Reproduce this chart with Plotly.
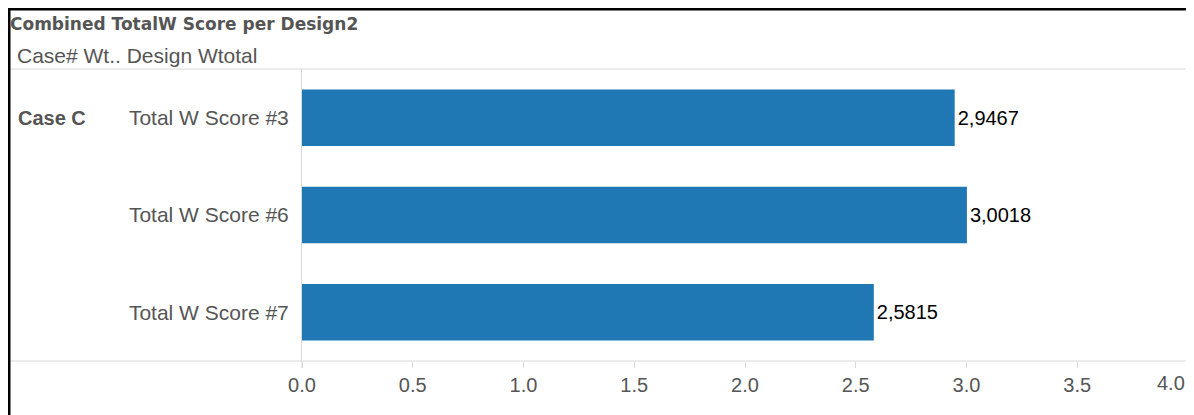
import plotly.graph_objects as go

categories = ["Total W Score #3", "Total W Score #6", "Total W Score #7"]
values = [2.9467, 3.0018, 2.5815]
case_label = "Case C"
title_text = "Combined TotalW Score per Design2"
header_text = "Case# Wt.. Design Wtotal"
x_ticks = [0, 0.5, 1.0, 1.5, 2.0, 2.5, 3.0, 3.5, 4.0]

# page is rendered with an 8px body margin; figure coordinates = page - 8
OFF = 8
W, H = 1194 - OFF, 415 - OFF
L, R, T, B = 302, 1188, 69, 361  # page pixels of plot area

def px(x):
    return (x - L) / (R - L)

def py(y):
    return (B - y) / (B - T)

labels = [f"{v:.4f}".replace(".", ",") for v in values]
tick_text = [f"{t:.1f}" for t in x_ticks]
FONT = "Liberation Sans, Arial"

fig = go.Figure(go.Bar(
    x=values, y=categories, orientation="h",
    marker=dict(color="#1f77b4", line=dict(width=0)),
    width=0.58,
    text=labels, textposition="outside",
    textfont=dict(family=FONT, size=20, color="#000000"),
    cliponaxis=False,
))

# last tick label is drawn right-aligned at the axis end (as in the reference)
fig.update_layout(
    width=W, height=H,
    margin=dict(l=L - OFF, r=W - (R - OFF), t=T - OFF, b=H - (B - OFF)),
    plot_bgcolor="white", paper_bgcolor="white",
    showlegend=False,
    xaxis=dict(range=[0, 4], tickvals=x_ticks, ticktext=tick_text[:-1] + [""],
               showgrid=False, zeroline=False, showline=False,
               ticks="outside", ticklen=6, tickcolor="#d8d8d8",
               tickfont=dict(family=FONT, size=20, color="#555555"),
               fixedrange=True),
    yaxis=dict(categoryorder="array", categoryarray=categories, autorange="reversed",
               showgrid=False, zeroline=False, showline=True, linecolor="#d8d8d8", linewidth=1,
               ticks="", ticklabelstandoff=8,
               tickfont=dict(family=FONT, size=21, color="#555555"),
               fixedrange=True),
)
fig.add_annotation(text=tick_text[-1], xref="x", yref="paper", x=x_ticks[-1], y=py(383),
                   xanchor="right", yanchor="middle", showarrow=False, xshift=-1,
                   font=dict(family=FONT, size=20, color="#555555"))

line_col = "#d8d8d8"
shapes = [
    dict(type="line", xref="paper", yref="paper", x0=px(9), x1=px(1188), y0=py(69), y1=py(69),
         line=dict(color=line_col, width=1)),
    dict(type="line", xref="paper", yref="paper", x0=px(9), x1=px(1188), y0=py(361), y1=py(361),
         line=dict(color=line_col, width=1)),
    dict(type="line", xref="paper", yref="paper", x0=px(1188), x1=px(1188), y0=py(69), y1=py(368),
         line=dict(color=line_col, width=1)),
    dict(type="line", xref="paper", yref="paper", x0=0, x1=0, y0=py(361), y1=py(368),
         line=dict(color=line_col, width=1)),
    # black frame
    dict(type="line", xref="paper", yref="paper", x0=px(9), x1=px(9), y0=py(8), y1=py(420),
         line=dict(color="#000000", width=3)),
    dict(type="line", xref="paper", yref="paper", x0=px(8), x1=px(1193), y0=py(9), y1=py(9),
         line=dict(color="#000000", width=3)),
    dict(type="line", xref="paper", yref="paper", x0=px(1191.5), x1=px(1191.5), y0=py(8), y1=py(420),
         line=dict(color="#000000", width=3)),
]
fig.update_layout(shapes=shapes)

fig.add_annotation(text=f"<b>{title_text}</b>", xref="paper", yref="paper",
                   x=px(8), y=py(24), xanchor="left", yanchor="middle", showarrow=False,
                   font=dict(family="DejaVu Sans", size=17, color="#555555"))
fig.add_annotation(text=header_text, xref="paper", yref="paper",
                   x=px(15), y=py(56), xanchor="left", yanchor="middle", showarrow=False,
                   font=dict(family=FONT, size=21, color="#555555"))
fig.add_annotation(text=f"<b>{case_label}</b>", xref="paper", yref="y",
                   x=px(16), y=categories[0], xanchor="left", yanchor="middle", showarrow=False,
                   font=dict(family=FONT, size=20, color="#555555"))

fig.write_html("out.html")
